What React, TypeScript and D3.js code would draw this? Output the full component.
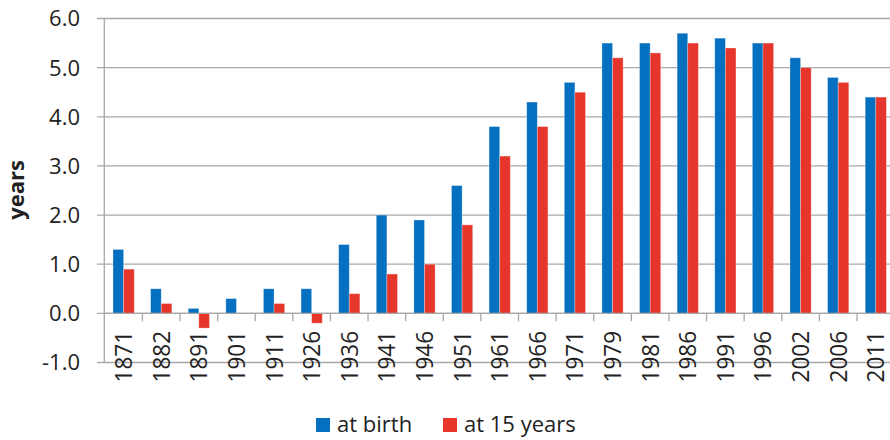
import React from "react";
import * as d3 from "d3";

// Census years and the gap in life expectancy (years) for the two measures
const years = [
  "1871", "1882", "1891", "1901", "1911", "1926", "1936", "1941", "1946", "1951",
  "1961", "1966", "1971", "1979", "1981", "1986", "1991", "1996", "2002", "2006", "2011",
];
const atBirth = [1.3, 0.5, 0.1, 0.3, 0.5, 0.5, 1.4, 2.0, 1.9, 2.6, 3.8, 4.3, 4.7, 5.5, 5.5, 5.7, 5.6, 5.5, 5.2, 4.8, 4.4];
const at15 = [0.9, 0.2, -0.3, 0.0, 0.2, -0.2, 0.4, 0.8, 1.0, 1.8, 3.2, 3.8, 4.5, 5.2, 5.3, 5.5, 5.4, 5.5, 5.0, 4.7, 4.4];
const seriesNames = ["at birth", "at 15 years"];
const seriesColors = ["#0570C0", "#E6352B"];
const yTicks = [-1, 0, 1, 2, 3, 4, 5, 6];

const W = 890;
const H = 440;
const FONT = "'Open Sans', 'Liberation Sans', sans-serif";
const TEXT = "#222";
const GRID = "#a8a8a8";

// one decimal, plain hyphen for negatives
const fmt = (v: number) => d3.format(".1f")(v).replace("\u2212", "-");

export default function App() {
  const x = d3.scaleBand<string>().domain(years).range([104.8, 894.6]).padding(0);
  const inner = d3
    .scaleBand<string>()
    .domain(seriesNames)
    .range([0, x.step()])
    .paddingInner(0)
    .paddingOuter(0.774);
  const y = d3.scaleLinear().domain([-1, 6]).range([362.5, 18.5]);
  const left = x.range()[0];
  const series = [atBirth, at15];

  return (
    <svg
      width={W}
      height={H}
      style={{ position: "absolute", left: 0, top: 0, background: "#fff" }}
      fontFamily={FONT}
    >
      {/* horizontal gridlines with left tick marks */}
      {yTicks.map((t) => (
        <line key={"g" + t} x1={97} x2={W} y1={y(t)} y2={y(t)} stroke={GRID} strokeWidth={1.3} />
      ))}
      {/* y tick labels */}
      {yTicks.map((t) => (
        <text
          key={"yl" + t}
          x={80}
          y={y(t)}
          dy="0.36em"
          textAnchor="end"
          fontSize={22}
          fill={TEXT}
        >
          {fmt(t)}
        </text>
      ))}
      {/* bars */}
      {series.map((vals, si) =>
        vals.map((v, i) => {
          const x0 = (x(years[i]) as number) + (inner(seriesNames[si]) as number);
          const top = y(Math.max(v, 0));
          const h = Math.abs(y(v) - y(0));
          return (
            <rect
              key={si + "-" + i}
              x={x0}
              y={top}
              width={inner.bandwidth()}
              height={h}
              fill={seriesColors[si]}
              stroke="#ffffff"
              strokeOpacity={0.35}
              strokeWidth={0.8}
            />
          );
        })
      )}
      {/* category axis at zero */}
      <line x1={left} x2={W} y1={y(0)} y2={y(0)} stroke={GRID} strokeWidth={1.3} />
      {years.map((yr, i) =>
        i === 0 ? null : (
          <line
            key={"t" + yr}
            x1={x(yr) as number}
            x2={x(yr) as number}
            y1={y(0)}
            y2={y(0) + 8}
            stroke={GRID}
            strokeWidth={1.3}
          />
        )
      )}
      {/* value axis */}
      <line x1={left - 0.5} x2={left - 0.5} y1={y(6)} y2={y(-1)} stroke={GRID} strokeWidth={1.3} />
      {/* year labels */}
      {years.map((yr) => {
        const cx = (x(yr) as number) + x.bandwidth() / 2;
        return (
          <text
            key={"xl" + yr}
            transform={`translate(${cx + 8.5},331) rotate(-90) scale(1,1.06)`}
            textAnchor="end"
            fontSize={22.5}
            fill={TEXT}
          >
            {yr}
          </text>
        );
      })}
      {/* axis title */}
      <text
        transform={`translate(24,190) rotate(-90)`}
        textAnchor="middle"
        fontSize={22}
        fontWeight="bold"
        fill={TEXT}
      >
        years
      </text>
      {/* legend */}
      <rect x={316} y={418} width={14} height={14} fill={seriesColors[0]} />
      <text x={337} y={432} fontSize={22} fill={TEXT}>
        {seriesNames[0]}
      </text>
      <rect x={443} y={418} width={14} height={14} fill={seriesColors[1]} />
      <text x={464} y={432} fontSize={22} fill={TEXT}>
        {seriesNames[1]}
      </text>
    </svg>
  );
}
